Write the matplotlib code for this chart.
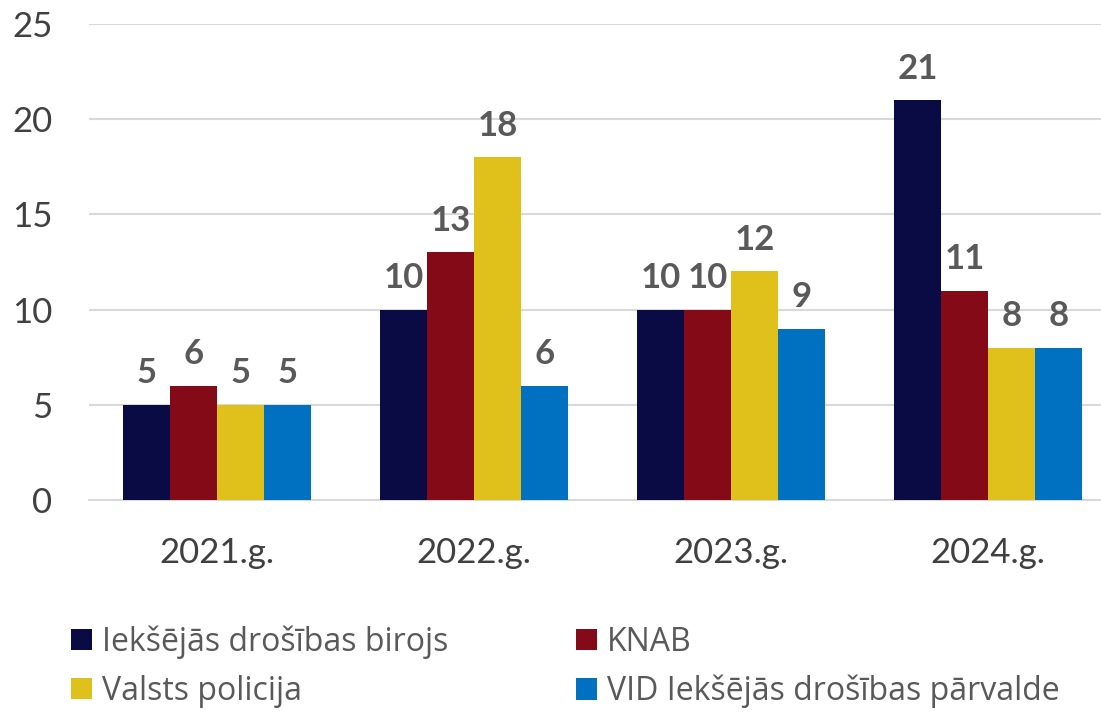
import numpy as np
import matplotlib.pyplot as plt

years = ['2021.g.', '2022.g.', '2023.g.', '2024.g.']
series = ['Iekšējās drošības birojs', 'KNAB', 'Valsts policija',
          'VID Iekšējās drošības pārvalde']
iedb = [5, 10, 10, 21]
knab = [6, 13, 10, 11]
vp = [5, 18, 12, 8]
vid = [5, 6, 9, 8]
colors = ['#0a0a45', '#840a18', '#e0c01a', '#0070c0']

plt.rcParams['font.family'] = ['Lato', 'DejaVu Sans']

fig = plt.figure(figsize=(11.01, 7.12), dpi=100)
ax = fig.add_axes([0.0804, 0.2978, 0.9337, 0.6685])

x = np.arange(len(years))
w = 0.183
bars = []
for i, vals in enumerate([iedb, knab, vp, vid]):
    b = ax.bar(x + (i - 1.5) * w, vals, w, color=colors[i], label=series[i],
               zorder=3, edgecolor='none')
    bars.append(b)
    for rect, v in zip(b, vals):
        ax.annotate(str(v), (rect.get_x() + rect.get_width() / 2, v),
                    xytext=(0, 11), textcoords='offset points',
                    ha='center', va='bottom', fontsize=25, fontweight='bold',
                    color='#595959')

ax.set_xlim(-0.5, 3.5)
ax.set_ylim(0, 25)
ax.set_yticks([0, 5, 10, 15, 20, 25])
ax.set_xticks(x)
ax.set_xticklabels(years)
ax.tick_params(axis='y', length=0, pad=26, labelsize=25, labelcolor='#404040')
ax.tick_params(axis='x', length=0, pad=27, labelsize=25, labelcolor='#404040')
ax.grid(axis='y', color='#d9d9d9', linewidth=1.5, zorder=0)
for s in ['top', 'right', 'left']:
    ax.spines[s].set_visible(False)
ax.spines['bottom'].set_color('#d9d9d9')
ax.spines['bottom'].set_linewidth(1.5)

# legend laid out in two rows: order so that columns read across
order = [0, 2, 1, 3]
h = [bars[i] for i in order]
l = [series[i] for i in order]
fig.legend(h, l, ncol=2, loc='upper left', bbox_to_anchor=(0.0645, 0.122),
           frameon=False, prop={'family': 'Open Sans', 'size': 23},
           labelcolor='#595959', borderpad=0, borderaxespad=0,
           handlelength=0.66, handleheight=0.66, handletextpad=0.31,
           columnspacing=4.0, labelspacing=0.5)

fig.savefig('out.png', dpi=100)
